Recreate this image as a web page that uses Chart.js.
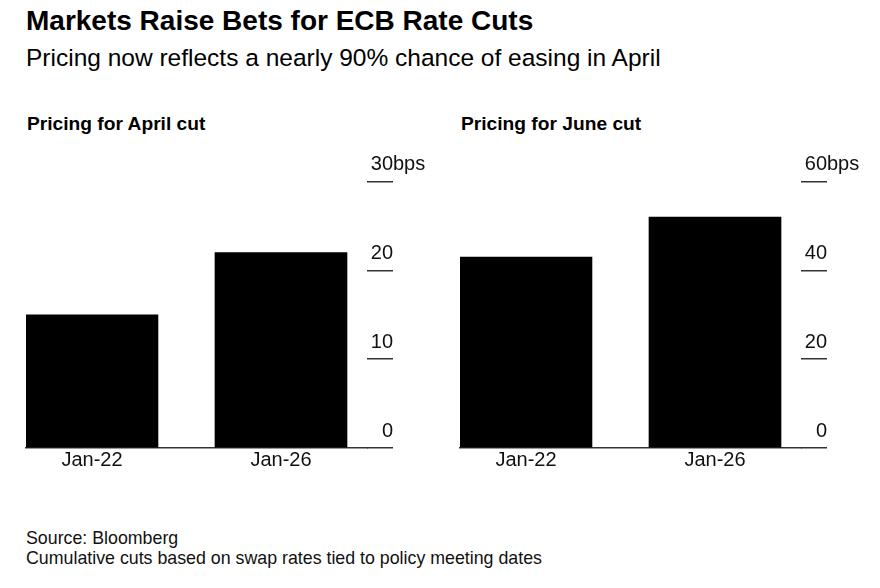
<!DOCTYPE html>
<html>
<head>
<meta charset="utf-8">
<script src="https://cdn.jsdelivr.net/npm/chart.js@4"></script>
<style>
  body { margin: 0; background: #fff; font-family: "Liberation Sans", Arial, sans-serif; color: #000; }
  #page { position: relative; width: 880px; height: 588px; overflow: hidden; }
  .txt { position: absolute; white-space: nowrap; line-height: 1; }
  #title { left: 26px; top: 7px; font-size: 28px; font-weight: bold; }
  #subtitle { left: 26px; top: 46px; font-size: 24.5px; }
  .panelTitle { top: 114px; font-size: 19.2px; font-weight: bold; }
  .foot { left: 26px; font-size: 17.8px; color: #111; }
  .box { position: absolute; top: 140px; width: 434px; height: 332px; }
</style>
</head>
<body>
<div id="page">
  <div class="txt" id="title">Markets Raise Bets for ECB Rate Cuts</div>
  <div class="txt" id="subtitle">Pricing now reflects a nearly 90% chance of easing in April</div>
  <div class="txt panelTitle" style="left:27px">Pricing for April cut</div>
  <div class="txt panelTitle" style="left:461px">Pricing for June cut</div>
  <div class="box" style="left:0px"><canvas id="aprilChart"></canvas></div>
  <div class="box" style="left:434px"><canvas id="juneChart"></canvas></div>
  <div class="txt foot" style="top:530px">Source: Bloomberg</div>
  <div class="txt foot" style="top:550px">Cumulative cuts based on swap rates tied to policy meeting dates</div>
</div>
<script>
// datos de cada panel
const categories = ["Jan-22", "Jan-26"];
const aprilCut = [15, 22];
const juneCut = [43, 52];
const aprilTicks = [0, 10, 20, 30];
const juneTicks = [0, 20, 40, 60];
const unitLabel = "bps";

const tickFont = { family: "Liberation Sans", size: 20 };

// dibuja "bps" a la derecha de la etiqueta superior
const unitPlugin = {
  id: "unitPlugin",
  afterDraw(chart) {
    const y = chart.scales.y;
    const ctx = chart.ctx;
    ctx.save();
    ctx.font = "20px 'Liberation Sans'";
    ctx.fillStyle = "#111";
    ctx.textAlign = "left";
    ctx.textBaseline = "middle";
    ctx.fillText(unitLabel, y.left + y.options.grid.tickLength, y.getPixelForValue(y.max) + y.options.ticks.labelOffset);
    ctx.restore();
  }
};

function makeChart(canvasId, values, ticks) {
  const ctx = document.getElementById(canvasId).getContext("2d");
  return new Chart(ctx, {
    type: "bar",
    data: {
      datasets: [
        {
          data: values.map((v, i) => ({ x: i, y: v })),
          backgroundColor: "#000",
          borderWidth: 0,
          barThickness: 132
        }
      ]
    },
    options: {
      responsive: true,
      maintainAspectRatio: false,
      animation: false,
      layout: { padding: { left: 26, right: 41, top: 41.5, bottom: 0 } },
      plugins: { legend: { display: false }, tooltip: { enabled: false } },
      scales: {
        x: {
          type: "linear",
          offset: false,
          min: -0.349,
          max: 1.455,
          grid: { display: false, drawTicks: false, offset: false },
          border: { display: true, color: "#333", width: 1.5 },
          afterBuildTicks: (scale) => {
            scale.ticks = categories.map((c, i) => ({ value: i }));
          },
          ticks: {
            font: tickFont,
            color: "#111",
            padding: 0,
            maxRotation: 0,
            callback: (v) => categories[v]
          }
        },
        y: {
          position: "right",
          min: ticks[0],
          max: ticks[ticks.length - 1],
          afterBuildTicks: (scale) => {
            scale.ticks = ticks.map((t) => ({ value: t }));
          },
          afterFit: (scale) => {
            // etiquetas dentro del área: sin ancho ni relleno extra
            scale.width = scale.options.grid.tickLength;
            scale.paddingTop = 0;
            scale.paddingBottom = 0;
          },
          grid: {
            drawOnChartArea: false,
            drawTicks: true,
            tickLength: 26,
            color: "#333",
            lineWidth: 1.5
          },
          border: { display: false },
          ticks: {
            mirror: true,
            padding: 26,
            labelOffset: -17,
            font: tickFont,
            color: "#111"
          }
        }
      }
    },
    plugins: [unitPlugin]
  });
}

makeChart("aprilChart", aprilCut, aprilTicks);
makeChart("juneChart", juneCut, juneTicks);
</script>
</body>
</html>
